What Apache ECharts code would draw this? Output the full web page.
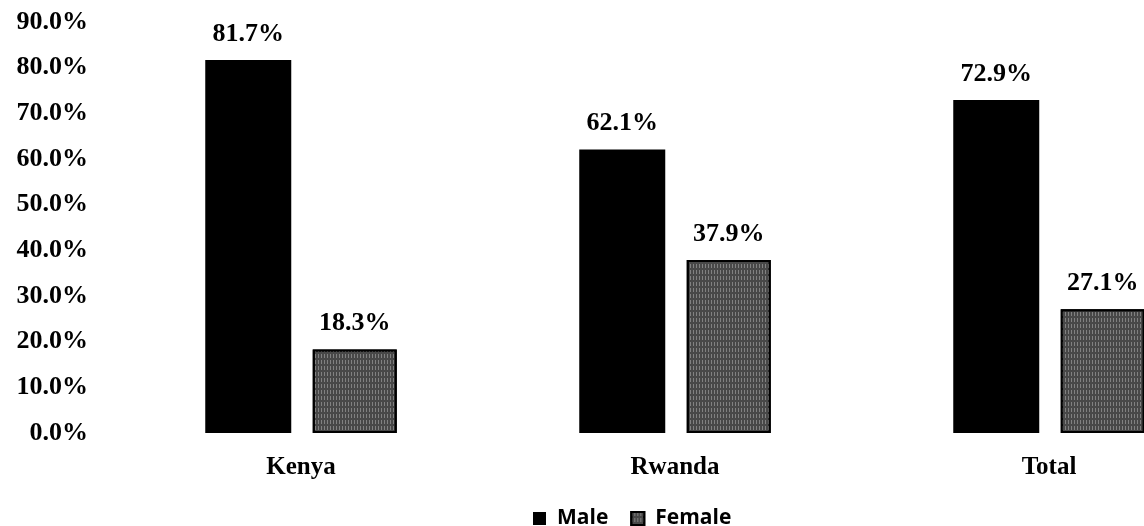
<!DOCTYPE html>
<html>
<head>
<meta charset="utf-8">
<script src="https://cdn.jsdelivr.net/npm/echarts@6/dist/echarts.min.js"></script>
<style>
html, body { margin: 0; padding: 0; background: #fff; }
#chart { width: 1144px; height: 526px; }
</style>
</head>
<body>
<div id="chart"></div>
<script>
var regions = ['Kenya', 'Rwanda', 'Total'];
var male = [81.7, 62.1, 72.9];
var female = [18.3, 37.9, 27.1];

(function(){
    var myChart = echarts.init(document.getElementById('chart'));
    var serif = '"Liberation Serif", "Times New Roman", serif';

    var option = {
        animation: false,
        grid: {
            left: 114,
            width: 1122,
            top: 22,
            height: 411,
            outerBoundsMode: 'none'
        },
        legend: {
            data: ['Male', 'Female'],
            left: 528,
            top: 503,
            icon: 'rect',
            itemWidth: 13,
            itemHeight: 13,
            itemGap: 22,
            textStyle: {
                fontFamily: '"Open Sans", sans-serif',
                fontWeight: 'bold',
                fontSize: 21,
                color: '#000',
                padding: [0, 0, 0, 6]
            }
        },
        xAxis: {
            type: 'category',
            data: regions,
            axisLine: { show: false },
            axisTick: { show: false },
            axisLabel: {
                margin: 22,
                fontFamily: serif,
                fontWeight: 'bold',
                fontSize: 25,
                color: '#000'
            }
        },
        yAxis: {
            type: 'value',
            min: 0,
            max: 90,
            interval: 10,
            splitLine: { show: false },
            axisLine: { show: false },
            axisTick: { show: false },
            axisLabel: {
                margin: 26,
                fontFamily: serif,
                fontWeight: 'bold',
                fontSize: 26,
                color: '#000',
                formatter: function (v) { return v.toFixed(1) + '%'; }
            }
        },
        series: [
            {
                name: 'Male',
                type: 'bar',
                data: male,
                barWidth: 86,
                barGap: '25%',
                itemStyle: { color: '#000' },
                label: {
                    show: true,
                    position: 'top',
                    distance: 13,
                    fontFamily: serif,
                    fontWeight: 'bold',
                    fontSize: 26,
                    color: '#000',
                    formatter: function (p) { return p.value.toFixed(1) + '%'; }
                }
            },
            {
                name: 'Female',
                type: 'bar',
                data: female,
                barWidth: 84,
                itemStyle: {
                    color: '#484848',
                    borderColor: '#000',
                    borderWidth: 2,
                    decal: {
                        symbol: 'rect',
                        symbolSize: 1,
                        color: 'rgba(200,200,200,0.45)',
                        dashArrayX: [[1, 2]],
                        dashArrayY: [4, 2],
                        rotation: 0
                    }
                },
                label: {
                    show: true,
                    position: 'top',
                    distance: 13,
                    fontFamily: serif,
                    fontWeight: 'bold',
                    fontSize: 26,
                    color: '#000',
                    formatter: function (p) { return p.value.toFixed(1) + '%'; }
                }
            }
        ]
    };

    myChart.setOption(option);
})();
</script>
</body>
</html>
